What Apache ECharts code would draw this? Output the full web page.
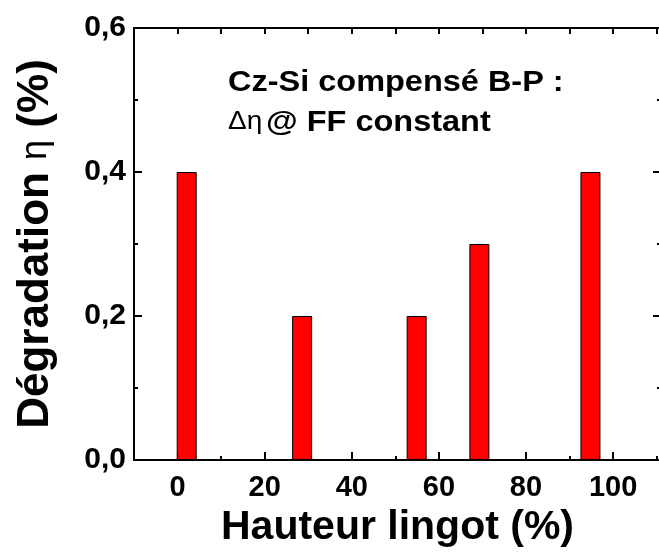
<!DOCTYPE html>
<html>
<head>
<meta charset="utf-8">
<script src="https://cdn.jsdelivr.net/npm/echarts@6/dist/echarts.min.js"></script>
<style>
  html, body { margin: 0; padding: 0; background: #fff; }
  #chart { width: 659px; height: 552px; }
</style>
</head>
<body>
<div id="chart"></div>
<script>
// ingot height (%) at bar centre, and degradation (%)
const hauteur = [2.1, 28.6, 54.9, 69.3, 94.8];
const degradation = [0.4, 0.2, 0.2, 0.3, 0.4];
const xMajorTicks = [0, 20, 40, 60, 80, 100];
const xMinorTicks = [-10, 10, 30, 50, 70, 90, 110];
const xTopTicks = [0, 10, 20, 30, 40, 50, 60, 70, 80, 90, 100, 110];

const font = "'Liberation Sans', Arial, sans-serif";
const black = "#000";

let barData = hauteur.map((h, i) => [h, degradation[i]]);

const chart = echarts.init(document.querySelector("#chart"));

const lineStyle = { color: black, width: 2 };

chart.setOption({
  animation: false,
  grid: { left: 134, right: -2, top: 28, bottom: 92, outerBoundsMode: "none", containLabel: false },
  xAxis: [
    {
      type: "value", position: "bottom", min: -10, max: 111,
      axisLine: { show: true, onZero: false, lineStyle: lineStyle },
      axisTick: { show: true, inside: true, length: 8, customValues: xMajorTicks, lineStyle: lineStyle },
      axisLabel: { customValues: xMajorTicks, color: black, fontSize: 29, fontWeight: "bold", fontFamily: font, margin: 13 },
      splitLine: { show: false },
      name: "Hauteur lingot (%)",
      nameLocation: "middle",
      nameGap: 45,
      nameTextStyle: { color: black, fontSize: 41, fontWeight: "bold", fontFamily: font }
    },
    {
      type: "value", position: "bottom", min: -10, max: 111,
      axisLine: { show: false, onZero: false },
      axisTick: { show: true, inside: true, length: 4, customValues: xMinorTicks, lineStyle: lineStyle },
      axisLabel: { show: false },
      splitLine: { show: false }
    },
    {
      type: "value", position: "top", min: -10, max: 111,
      axisLine: { show: true, onZero: false, lineStyle: lineStyle },
      axisTick: { show: true, inside: true, length: 6, customValues: xTopTicks, lineStyle: lineStyle },
      axisLabel: { show: false },
      splitLine: { show: false }
    }
  ],
  yAxis: [
    {
      type: "value", position: "left", min: 0, max: 0.6, interval: 0.2,
      axisLine: { show: true, onZero: false, lineStyle: lineStyle },
      axisTick: { show: true, inside: true, length: 8, lineStyle: lineStyle },
      minorTick: { show: true, splitNumber: 2, length: 4, lineStyle: lineStyle },
      axisLabel: {
        color: black, fontSize: 30, fontWeight: "bold", fontFamily: font, margin: 8,
        formatter: (v) => v.toFixed(1).replace(".", ",")
      },
      splitLine: { show: false },
      name: "{b|Dégradation }{g|η}{b| (%)}",
      nameLocation: "middle",
      nameRotate: 90,
      nameGap: 76,
      nameTextStyle: {
        rich: {
          b: { color: black, fontSize: 44, fontWeight: "bold", fontFamily: font },
          g: { color: black, fontSize: 36, fontFamily: font }
        }
      }
    },
    {
      type: "value", position: "right", min: 0, max: 0.6, interval: 0.2,
      axisLine: { show: true, onZero: false, lineStyle: lineStyle },
      axisTick: { show: true, inside: true, length: 8, lineStyle: lineStyle },
      minorTick: { show: true, splitNumber: 2, length: 4, lineStyle: lineStyle },
      axisLabel: { show: false },
      splitLine: { show: false }
    }
  ],
  graphic: [
    {
      type: "text", left: 228, top: 68, scaleX: 1.12,
      style: { text: "Cz-Si compensé B-P :", fill: black, font: "bold 29px " + font }
    },
    {
      type: "text", left: 228, top: 108, scaleX: 1.12,
      style: {
        text: "{g|Δη} {b|@ FF constant}",
        rich: {
          g: { fill: black, fontSize: 25, fontFamily: font },
          b: { fill: black, fontSize: 29, fontWeight: "bold", fontFamily: font }
        }
      }
    }
  ],
  series: [
    {
      type: "bar",
      xAxisIndex: 0,
      yAxisIndex: 0,
      data: barData,
      barWidth: 20,
      itemStyle: { color: "#ff0000", borderColor: black, borderWidth: 1 }
    }
  ]
});
</script>
</body>
</html>
